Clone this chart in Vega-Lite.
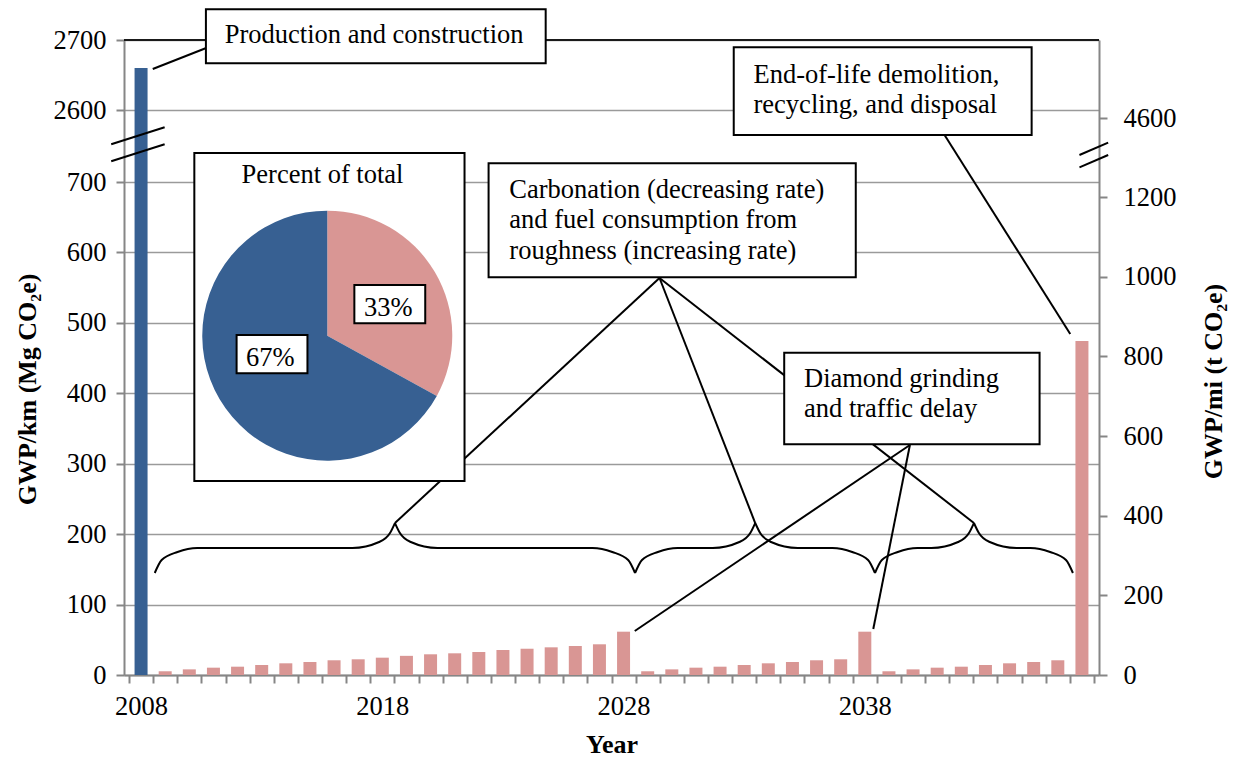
{
  "$schema": "https://vega.github.io/schema/vega-lite/v6.json",
  "width": 975,
  "height": 635,
  "padding": {"left": 124, "top": 40, "right": 139, "bottom": 84},
  "autosize": {"type": "none"},
  "background": "white",
  "config": {
    "font": "Liberation Serif",
    "view": {"stroke": null},
    "axis": {
      "labelFont": "Liberation Serif", "labelFontSize": 26.5, "labelColor": "#000000",
      "titleFont": "Liberation Serif", "titleFontSize": 26, "titleFontWeight": "bold", "titleColor": "#000000",
      "domainColor": "#868686", "domainWidth": 2, "tickColor": "#868686", "tickWidth": 2,
      "gridColor": "#9a9a9a", "gridWidth": 1.5
    },
    "text": {"font": "Liberation Serif", "fontSize": 26.5, "color": "#000000"}
  },
  "datasets": {
    "bars": [
      {"year": 2008, "gwp": 2660, "phase": "Production"},
      {"year": 2009, "gwp": 5.3, "phase": "Other"},
      {"year": 2010, "gwp": 8.0, "phase": "Other"},
      {"year": 2011, "gwp": 10.4, "phase": "Other"},
      {"year": 2012, "gwp": 11.8, "phase": "Other"},
      {"year": 2013, "gwp": 14.2, "phase": "Other"},
      {"year": 2014, "gwp": 16.6, "phase": "Other"},
      {"year": 2015, "gwp": 18.5, "phase": "Other"},
      {"year": 2016, "gwp": 20.9, "phase": "Other"},
      {"year": 2017, "gwp": 22.3, "phase": "Other"},
      {"year": 2018, "gwp": 24.6, "phase": "Other"},
      {"year": 2019, "gwp": 27.2, "phase": "Other"},
      {"year": 2020, "gwp": 29.4, "phase": "Other"},
      {"year": 2021, "gwp": 30.8, "phase": "Other"},
      {"year": 2022, "gwp": 32.7, "phase": "Other"},
      {"year": 2023, "gwp": 35.5, "phase": "Other"},
      {"year": 2024, "gwp": 37.3, "phase": "Other"},
      {"year": 2025, "gwp": 39.3, "phase": "Other"},
      {"year": 2026, "gwp": 41.2, "phase": "Other"},
      {"year": 2027, "gwp": 43.6, "phase": "Other"},
      {"year": 2028, "gwp": 61.5, "phase": "Other"},
      {"year": 2029, "gwp": 5.3, "phase": "Other"},
      {"year": 2030, "gwp": 8.0, "phase": "Other"},
      {"year": 2031, "gwp": 10.4, "phase": "Other"},
      {"year": 2032, "gwp": 11.8, "phase": "Other"},
      {"year": 2033, "gwp": 14.2, "phase": "Other"},
      {"year": 2034, "gwp": 16.6, "phase": "Other"},
      {"year": 2035, "gwp": 18.5, "phase": "Other"},
      {"year": 2036, "gwp": 20.9, "phase": "Other"},
      {"year": 2037, "gwp": 22.3, "phase": "Other"},
      {"year": 2038, "gwp": 61.5, "phase": "Other"},
      {"year": 2039, "gwp": 5.3, "phase": "Other"},
      {"year": 2040, "gwp": 8.0, "phase": "Other"},
      {"year": 2041, "gwp": 10.4, "phase": "Other"},
      {"year": 2042, "gwp": 11.8, "phase": "Other"},
      {"year": 2043, "gwp": 14.2, "phase": "Other"},
      {"year": 2044, "gwp": 16.6, "phase": "Other"},
      {"year": 2045, "gwp": 18.5, "phase": "Other"},
      {"year": 2046, "gwp": 20.9, "phase": "Other"},
      {"year": 2047, "gwp": 474.2, "phase": "Other"}
    ],
    "pie": [
      {"phase": "Other", "pct": 33},
      {"phase": "Production", "pct": 67}
    ],
    "braces": [
      {"b": "1a", "o": 0, "x": 2008.567, "y": 144.83},
      {"b": "1a", "o": 1, "x": 2008.854, "y": 163.28},
      {"b": "1a", "o": 2, "x": 2009.511, "y": 174.64},
      {"b": "1a", "o": 3, "x": 2010.331, "y": 180.32},
      {"b": "1a", "o": 4, "x": 2016.760, "y": 180.32},
      {"b": "1a", "o": 5, "x": 2017.868, "y": 188.84},
      {"b": "1a", "o": 6, "x": 2018.319, "y": 201.62},
      {"b": "1a", "o": 7, "x": 2018.524, "y": 215.82},
      {"b": "1b", "o": 0, "x": 2018.524, "y": 215.82},
      {"b": "1b", "o": 1, "x": 2018.729, "y": 201.62},
      {"b": "1b", "o": 2, "x": 2019.180, "y": 188.84},
      {"b": "1b", "o": 3, "x": 2020.288, "y": 180.32},
      {"b": "1b", "o": 4, "x": 2026.713, "y": 180.32},
      {"b": "1b", "o": 5, "x": 2027.533, "y": 174.64},
      {"b": "1b", "o": 6, "x": 2028.190, "y": 163.28},
      {"b": "1b", "o": 7, "x": 2028.477, "y": 144.83},
      {"b": "2a", "o": 0, "x": 2028.477, "y": 144.83},
      {"b": "2a", "o": 1, "x": 2028.764, "y": 163.28},
      {"b": "2a", "o": 2, "x": 2029.421, "y": 174.64},
      {"b": "2a", "o": 3, "x": 2030.241, "y": 180.32},
      {"b": "2a", "o": 4, "x": 2031.693, "y": 180.32},
      {"b": "2a", "o": 5, "x": 2032.801, "y": 188.84},
      {"b": "2a", "o": 6, "x": 2033.252, "y": 201.62},
      {"b": "2a", "o": 7, "x": 2033.457, "y": 215.82},
      {"b": "2b", "o": 0, "x": 2033.457, "y": 215.82},
      {"b": "2b", "o": 1, "x": 2033.662, "y": 201.62},
      {"b": "2b", "o": 2, "x": 2034.113, "y": 188.84},
      {"b": "2b", "o": 3, "x": 2035.221, "y": 180.32},
      {"b": "2b", "o": 4, "x": 2036.657, "y": 180.32},
      {"b": "2b", "o": 5, "x": 2037.477, "y": 174.64},
      {"b": "2b", "o": 6, "x": 2038.134, "y": 163.28},
      {"b": "2b", "o": 7, "x": 2038.421, "y": 144.83},
      {"b": "3a", "o": 0, "x": 2038.421, "y": 144.83},
      {"b": "3a", "o": 1, "x": 2038.708, "y": 163.28},
      {"b": "3a", "o": 2, "x": 2039.365, "y": 174.64},
      {"b": "3a", "o": 3, "x": 2040.185, "y": 180.32},
      {"b": "3a", "o": 4, "x": 2040.759, "y": 180.32},
      {"b": "3a", "o": 5, "x": 2041.867, "y": 188.84},
      {"b": "3a", "o": 6, "x": 2042.318, "y": 201.62},
      {"b": "3a", "o": 7, "x": 2042.523, "y": 215.82},
      {"b": "3b", "o": 0, "x": 2042.523, "y": 215.82},
      {"b": "3b", "o": 1, "x": 2042.728, "y": 201.62},
      {"b": "3b", "o": 2, "x": 2043.179, "y": 188.84},
      {"b": "3b", "o": 3, "x": 2044.287, "y": 180.32},
      {"b": "3b", "o": 4, "x": 2044.862, "y": 180.32},
      {"b": "3b", "o": 5, "x": 2045.682, "y": 174.64},
      {"b": "3b", "o": 6, "x": 2046.339, "y": 163.28},
      {"b": "3b", "o": 7, "x": 2046.626, "y": 144.83}
    ],
    "leaders": [
      {"x": 2008.485, "y": 2658.6, "x2": 2010.7, "y2": 2688.6},
      {"x": 2041.305, "y": 1940.3, "x2": 2046.515, "y2": 484.2},
      {"x": 2029.49, "y": 563.7, "x2": 2018.524, "y2": 215.8},
      {"x": 2029.49, "y": 563.7, "x2": 2033.457, "y2": 215.8},
      {"x": 2029.49, "y": 563.7, "x2": 2042.523, "y2": 215.8},
      {"x": 2039.869, "y": 326.6, "x2": 2028.464, "y2": 62.5},
      {"x": 2039.869, "y": 326.6, "x2": 2038.351, "y2": 65.3},
      {"x": 2006.762, "y": 1694.9, "x2": 2008.977, "y2": 2143.5},
      {"x": 2006.762, "y": 1246.3, "x2": 2008.977, "y2": 1694.9},
      {"x": 2046.897, "y": 1412.5, "x2": 2048.087, "y2": 1737.1},
      {"x": 2046.897, "y": 1087.9, "x2": 2048.087, "y2": 1412.5}
    ],
    "boxes": [
      {"x": 2010.688, "x2": 2024.772, "y": 2743.9, "y2": 2666.7},
      {"x": 2032.567, "x2": 2044.915, "y": 2689.6, "y2": 1940.3},
      {"x": 2010.208, "x2": 2021.408, "y": 1465.3, "y2": 275.4},
      {"x": 2022.405, "x2": 2037.625, "y": 1193.5, "y2": 564.7},
      {"x": 2034.659, "x2": 2045.244, "y": 457.6, "y2": 327.6}
    ],
    "smallboxes": [
      {"x": 2016.841, "x2": 2019.779, "y": 553.7, "y2": 499.4},
      {"x": 2011.96, "x2": 2014.897, "y": 482.7, "y2": 428.4}
    ],
    "centertext": [
      {"label": "Production and construction", "x": 2017.662, "y": 2695.3},
      {"label": "Percent of total", "x": 2015.521, "y": 698.3},
      {"label": "33%", "x": 2018.249, "y": 510.2},
      {"label": "67%", "x": 2013.354, "y": 439.2}
    ],
    "lefttext": [
      {"label": "End-of-life demolition,\nrecycling, and disposal", "x": 2033.387, "y": 2638.6},
      {"label": "Carbonation (decreasing rate)\nand fuel consumption from\nroughness (increasing rate)", "x": 2023.266, "y": 677.3},
      {"label": "Diamond grinding\nand traffic delay", "x": 2035.479, "y": 409.3}
    ]
  },
  "layer": [
    {
      "data": {"name": "bars"},
      "mark": {"type": "bar", "width": 13, "orient": "vertical"},
      "encoding": {
        "x": {
          "field": "year", "type": "quantitative",
          "scale": {"domain": [2007.5, 2047.5], "nice": false, "zero": false},
          "axis": {"orient": "bottom", "values": [2008, 2018, 2028, 2038], "format": "d", "ticks": false, "tickSize": 0, "labelPadding": 39, "labelBaseline": "alphabetic", "grid": false, "title": "Year", "titleY": 77, "titleBaseline": "alphabetic"}
        },
        "y": {
          "field": "gwp", "type": "quantitative", "stack": null,
          "scale": {"domain": [0, 700, 2600, 2700], "range": [635, 142, 70, 0], "nice": false, "zero": false},
          "axis": {"orient": "left", "values": [0, 100, 200, 300, 400, 500, 600, 700, 2600, 2700], "format": "d", "tickSize": 8, "labelPadding": 10, "grid": true, "title": "GWP/km (Mg CO₂e)", "titleX": -97, "titleY": 349, "titleAngle": -90, "titleAlign": "center", "titleBaseline": "middle"}
        },
        "color": {"field": "phase", "type": "nominal", "scale": {"domain": ["Production", "Other"], "range": ["#376092", "#D99694"]}, "legend": null}
      }
    },
    {
      "data": {"name": "bars"},
      "mark": {"type": "point", "opacity": 0},
      "encoding": {
        "x": {
          "field": "year", "type": "quantitative",
          "axis": {"orient": "bottom", "values": [2007.5, 2008.5, 2009.5, 2010.5, 2011.5, 2012.5, 2013.5, 2014.5, 2015.5, 2016.5, 2017.5, 2018.5, 2019.5, 2020.5, 2021.5, 2022.5, 2023.5, 2024.5, 2025.5, 2026.5, 2027.5, 2028.5, 2029.5, 2030.5, 2031.5, 2032.5, 2033.5, 2034.5, 2035.5, 2036.5, 2037.5, 2038.5, 2039.5, 2040.5, 2041.5, 2042.5, 2043.5, 2044.5, 2045.5, 2046.5, 2047.5], "labels": false, "ticks": true, "tickSize": 8, "domain": false, "grid": false, "title": null}
        },
        "y": {
          "field": "gwp", "type": "quantitative",
          "scale": {"domain": [0, 1238, 4600, 4796], "range": [635, 142, 78, 0], "nice": false, "zero": false},
          "axis": {"orient": "right", "values": [0, 200, 400, 600, 800, 1000, 1200, 4600], "format": "d", "tickSize": 8, "labelPadding": 16, "labelAlign": "left", "grid": false, "title": "GWP/mi (t CO₂e)", "titleX": 114, "titleY": 341, "titleAngle": -90, "titleAlign": "center", "titleBaseline": "middle"}
        }
      }
    },
    {
      "data": {"name": "braces"},
      "mark": {"type": "line", "interpolate": "monotone", "color": "#000000", "strokeWidth": 2},
      "encoding": {
        "x": {"field": "x", "type": "quantitative", "axis": null},
        "y": {"field": "y", "type": "quantitative", "axis": null, "scale": {"domain": [0, 700, 2600, 2700], "range": [635, 142, 70, 0], "nice": false, "zero": false}},
        "detail": {"field": "b", "type": "nominal"},
        "order": {"field": "o", "type": "quantitative"}
      }
    },
    {
      "data": {"name": "leaders"},
      "mark": {"type": "rule", "color": "#000000", "strokeWidth": 2},
      "encoding": {
        "x": {"field": "x", "type": "quantitative", "axis": null},
        "y": {"field": "y", "type": "quantitative", "axis": null, "scale": {"domain": [0, 700, 2600, 2700], "range": [635, 142, 70, 0], "nice": false, "zero": false}},
        "x2": {"field": "x2"},
        "y2": {"field": "y2"}
      }
    },
    {
      "data": {"values": [{"top": 2700}]},
      "mark": {"type": "rule", "color": "#1a1a1a", "strokeWidth": 2},
      "encoding": {
        "y": {"field": "top", "type": "quantitative", "axis": null, "scale": {"domain": [0, 700, 2600, 2700], "range": [635, 142, 70, 0], "nice": false, "zero": false}}
      }
    },
    {
      "data": {"name": "boxes"},
      "mark": {"type": "rect", "fill": "#ffffff", "stroke": "#000000", "strokeWidth": 2},
      "encoding": {
        "x": {"field": "x", "type": "quantitative", "axis": null},
        "x2": {"field": "x2"},
        "y": {"field": "y", "type": "quantitative", "axis": null, "scale": {"domain": [0, 700, 2600, 2700], "range": [635, 142, 70, 0], "nice": false, "zero": false}},
        "y2": {"field": "y2"}
      }
    },
    {
      "data": {"name": "pie"},
      "mark": {"type": "arc", "outerRadius": 125},
      "encoding": {
        "theta": {"field": "pct", "type": "quantitative", "stack": true},
        "order": {"field": "pct", "type": "quantitative", "sort": "ascending"},
        "color": {"field": "phase", "type": "nominal", "legend": null},
        "x": {"datum": 2015.718, "type": "quantitative", "axis": null},
        "y": {"datum": 481.8, "type": "quantitative", "axis": null, "scale": {"domain": [0, 700, 2600, 2700], "range": [635, 142, 70, 0], "nice": false, "zero": false}}
      }
    },
    {
      "data": {"name": "smallboxes"},
      "mark": {"type": "rect", "fill": "#ffffff", "stroke": "#000000", "strokeWidth": 2},
      "encoding": {
        "x": {"field": "x", "type": "quantitative", "axis": null},
        "x2": {"field": "x2"},
        "y": {"field": "y", "type": "quantitative", "axis": null, "scale": {"domain": [0, 700, 2600, 2700], "range": [635, 142, 70, 0], "nice": false, "zero": false}},
        "y2": {"field": "y2"}
      }
    },
    {
      "data": {"name": "centertext"},
      "mark": {"type": "text", "align": "center", "baseline": "alphabetic", "fontSize": 26.5, "font": "Liberation Serif"},
      "encoding": {
        "x": {"field": "x", "type": "quantitative", "axis": null},
        "y": {"field": "y", "type": "quantitative", "axis": null, "scale": {"domain": [0, 700, 2600, 2700], "range": [635, 142, 70, 0], "nice": false, "zero": false}},
        "text": {"field": "label"}
      }
    },
    {
      "data": {"name": "lefttext"},
      "mark": {"type": "text", "align": "left", "baseline": "alphabetic", "fontSize": 26.5, "font": "Liberation Serif", "lineBreak": "\n", "lineHeight": 30.5},
      "encoding": {
        "x": {"field": "x", "type": "quantitative", "axis": null},
        "y": {"field": "y", "type": "quantitative", "axis": null, "scale": {"domain": [0, 700, 2600, 2700], "range": [635, 142, 70, 0], "nice": false, "zero": false}},
        "text": {"field": "label"}
      }
    }
  ],
  "resolve": {"scale": {"y": "independent"}, "axis": {"x": "independent", "y": "independent"}}
}
